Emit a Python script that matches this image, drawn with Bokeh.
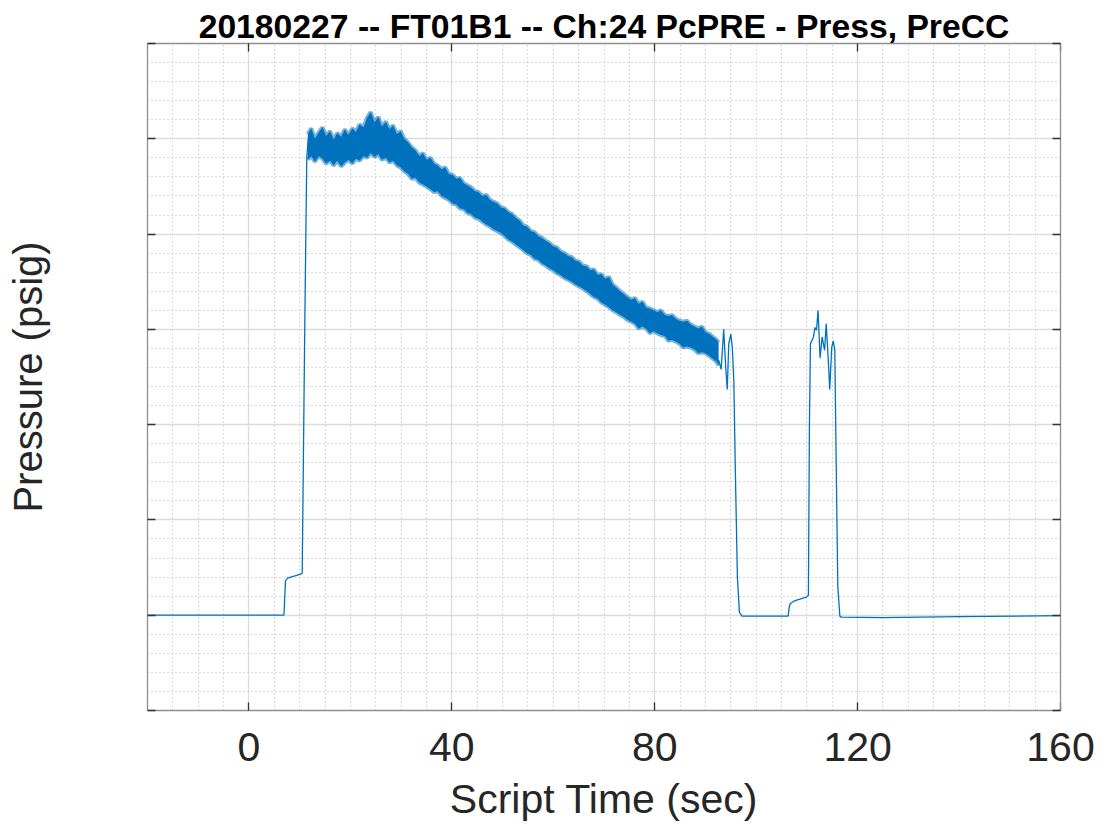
from bokeh.plotting import figure
from bokeh.models import Range1d, FixedTicker, LinearAxis, CustomJSTickFormatter
from bokeh.embed import file_html
from bokeh.resources import INLINE

# ---------------- data ----------------
TITLE = "20180227 -- FT01B1 -- Ch:24 PcPRE - Press, PreCC"
X_LABEL = "Script Time (sec)"
Y_LABEL = "Pressure (psig)"

x_ticks = [0, 40, 80, 120, 160]
x_minor = [v for v in range(-20, 161, 5)]
y_ticks = [-100, 0, 100, 200, 300, 400, 500, 600]
y_minor = [v for v in range(-100, 601, 20)]

# start-up segment (before the noisy plateau)
pre_t = [-20.0, 6.9, 7.2, 7.6, 10.2, 10.5, 11.0, 11.4, 11.7]
pre_v = [0.0, 0.0, 36.0, 39.0, 43.0, 44.0, 300.0, 480.0, 500.0]

# noisy plateau: upper / lower envelope of the trace
band_t = [11.6, 12.3, 13.0, 13.8, 14.5, 15.2, 16.0, 16.7, 17.4, 18.2, 18.9, 19.6,
          20.4, 21.1, 21.8, 22.6, 23.3, 24.0, 24.8, 25.5, 26.2, 27.0, 27.7, 28.4,
          29.2, 29.9, 30.6, 31.4, 32.1, 32.8, 33.6, 34.3, 35.0, 35.8, 36.5, 37.2,
          38.0, 38.7, 39.4, 40.2, 40.9, 41.6, 42.4, 43.1, 43.8, 44.6, 45.3, 46.0,
          46.8, 47.5, 48.2, 49.0, 49.7, 50.4, 51.2, 51.9, 52.6, 53.4, 54.1, 54.8,
          55.6, 56.3, 57.0, 57.8, 58.5, 59.2, 60.0, 60.7, 61.4, 62.2, 62.9, 63.6,
          64.4, 65.1, 65.8, 66.6, 67.3, 68.0, 68.8, 69.5, 70.2, 71.0, 71.7, 72.4,
          73.2, 73.9, 74.6, 75.4, 76.1, 76.8, 77.6, 78.3, 79.0, 79.8, 80.5, 81.2,
          82.0, 82.7, 83.4, 84.2, 84.9, 85.6, 86.4, 87.1, 87.8, 88.6, 89.3, 90.0,
          90.8, 91.5, 92.2, 92.6]
band_hi = [505, 511, 500, 507, 512, 503, 508, 499, 506, 502, 510, 504,
           511, 507, 515, 512, 522, 528, 517, 523, 513, 518, 510, 514,
           505, 508, 500, 496, 491, 488, 482, 485, 478, 480, 474, 472,
           468, 470, 463, 462, 458, 459, 453, 451, 449, 445, 444, 440,
           441, 436, 434, 432, 428, 427, 423, 421, 417, 414, 409, 408,
           403, 402, 398, 396, 393, 391, 387, 386, 382, 380, 377, 376,
           372, 371, 367, 366, 362, 363, 357, 358, 353, 355, 347, 344,
           340, 337, 334, 331, 333, 327, 329, 323, 322, 320, 318, 320,
           315, 314, 315, 311, 309, 308, 309, 305, 303, 301, 303, 297,
           295, 292, 289, 286]
band_lo = [478, 482, 476, 482, 479, 474, 477, 472, 477, 471, 475, 478,
           474, 479, 477, 482, 480, 485, 481, 484, 478, 480, 475, 477,
           472, 470, 466, 463, 458, 459, 454, 452, 450, 447, 444, 445,
           440, 438, 436, 432, 431, 427, 426, 422, 421, 417, 416, 413,
           410, 408, 405, 403, 401, 398, 394, 392, 389, 386, 383, 380,
           378, 374, 373, 369, 367, 364, 362, 359, 357, 354, 352, 350,
           347, 345, 343, 340, 337, 334, 332, 328, 326, 323, 320, 318,
           315, 313, 310, 308, 306, 301, 303, 301, 296, 298, 296, 294,
           293, 288, 289, 287, 285, 281, 282, 281, 279, 275, 276, 275,
           272, 269, 266, 262]

# shut-down, second pulse and tail
post_t = [92.6, 93.1, 93.6, 94.0, 94.3, 94.6, 95.0, 95.3, 95.6, 95.9, 96.3, 96.7,
          97.2, 106.3, 106.5, 106.7, 107.5, 109.9, 110.3, 110.5, 110.7, 111.3,
          111.6, 111.9, 112.2, 112.6, 113.0, 113.5, 113.8, 114.2, 114.5, 114.9,
          115.2, 115.5, 115.8, 116.1, 116.5, 116.8, 125.0, 140.0, 160.0]
post_v = [268, 258, 300, 260, 237, 285, 295, 281, 245, 150, 40, 3,
          -1, -1, 8, 12, 15, 19, 21, 200, 285, 292,
          302, 299, 320, 270, 292, 278, 306, 270, 237, 281,
          288, 278, 150, 30, -1, -2, -2.5, -1.5, -0.5]

LINE = "#0072BD"
FONT = "Liberation Sans"
TXT = "#262626"

p = figure(width=1103, height=824, output_backend="svg", toolbar_location=None,
           x_range=Range1d(-20, 160), y_range=Range1d(-100, 600),
           min_border_left=147, min_border_right=43, min_border_top=43,
           min_border_bottom=114)
p.outline_line_color = None
p.background_fill_color = "white"
p.border_fill_color = "white"

p.add_layout(LinearAxis(), "right")
p.add_layout(LinearAxis(), "above")

for ax in p.xaxis:
    ax.ticker = FixedTicker(ticks=x_ticks, minor_ticks=x_minor)
for ax in p.yaxis:
    ax.ticker = FixedTicker(ticks=y_ticks, minor_ticks=y_minor)

for ax in p.axis:
    ax.axis_line_color = "#8f8f8f"
    ax.axis_line_width = 1.3
    ax.major_tick_in = 8
    ax.major_tick_out = 0
    ax.minor_tick_in = 0
    ax.minor_tick_out = 0
    ax.major_tick_line_color = "#333333"
    ax.major_tick_line_width = 1.3
    ax.major_label_standoff = 0
    ax.formatter = CustomJSTickFormatter(code="return ''")

bottom = p.below[0]
bottom.formatter = CustomJSTickFormatter(code="return tick.toFixed(0)")
bottom.major_label_text_font = FONT
bottom.major_label_text_font_size = "41px"
bottom.major_label_text_color = TXT
bottom.major_label_standoff = 22
bottom.major_label_text_line_height = 1.0
bottom.axis_label = X_LABEL
bottom.axis_label_text_font = FONT
bottom.axis_label_text_font_size = "41px"
bottom.axis_label_text_font_style = "normal"
bottom.axis_label_text_color = TXT
bottom.axis_label_text_line_height = 1.0
bottom.axis_label_standoff = 12

left = p.left[0]
left.axis_label = Y_LABEL
left.axis_label_text_font = FONT
left.axis_label_text_font_size = "40px"
left.axis_label_text_font_style = "normal"
left.axis_label_text_color = TXT
left.axis_label_standoff = 98

p.title.text = TITLE
p.title.text_font = FONT
p.title.text_font_size = "33.7px"
p.title.text_font_style = "bold"
p.title.text_color = "black"
p.title.align = "center"
p.title.standoff = -3

p.xgrid.ticker = FixedTicker(ticks=x_ticks, minor_ticks=x_minor)
p.ygrid.ticker = FixedTicker(ticks=y_ticks, minor_ticks=y_minor)
for g in (p.xgrid, p.ygrid):
    g.grid_line_color = "#dcdcdc"
    g.grid_line_width = 1.3
    g.minor_grid_line_color = "#b5b5b5"
    g.minor_grid_line_dash = "1 3"
    g.minor_grid_line_width = 1

# data
p.varea(x=band_t, y1=band_lo, y2=band_hi, fill_color=LINE)
p.line(band_t, band_hi, line_color=LINE, line_width=4, line_alpha=0.55)
p.line(band_t, band_lo, line_color=LINE, line_width=4, line_alpha=0.55)
p.line(pre_t, pre_v, line_color=LINE, line_width=1.3)
p.line(post_t, post_v, line_color=LINE, line_width=1.3)

open("out.html", "w").write(file_html(p, INLINE))
